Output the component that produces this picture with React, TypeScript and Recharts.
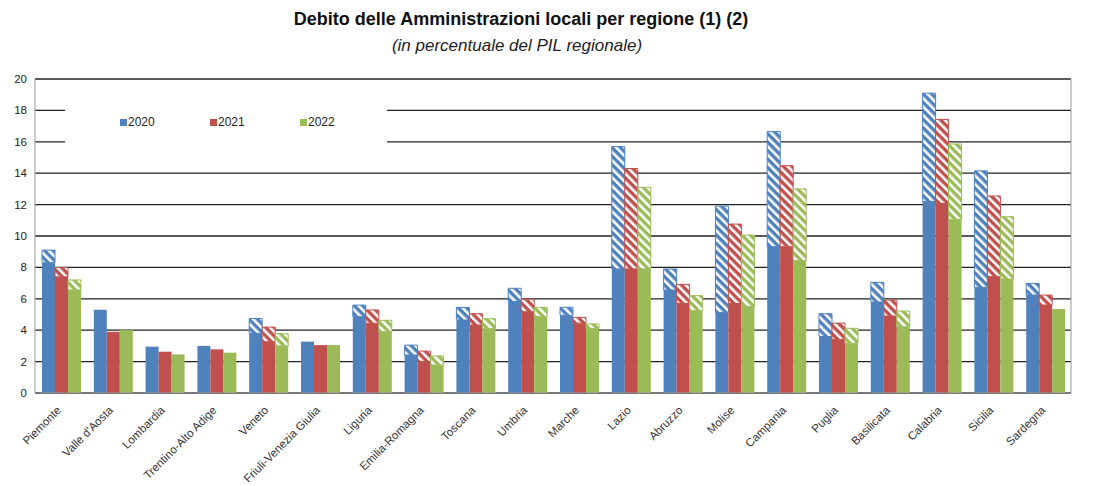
import React from "react";
import { BarChart, Bar, XAxis, YAxis, CartesianGrid } from "recharts";

const regions = [
  "Piemonte", "Valle d'Aosta", "Lombardia", "Trentino-Alto Adige", "Veneto",
  "Friuli-Venezia Giulia", "Liguria", "Emilia-Romagna", "Toscana", "Umbria",
  "Marche", "Lazio", "Abruzzo", "Molise", "Campania",
  "Puglia", "Basilicata", "Calabria", "Sicilia", "Sardegna",
];

// totale (altezza della barra) e parte piena; la differenza è la parte tratteggiata
const total2020 = [9.1, 5.3, 2.95, 3.0, 4.75, 3.27, 5.6, 3.05, 5.45, 6.67, 5.46, 15.7, 7.9, 11.9, 16.65, 5.05, 7.05, 19.1, 14.15, 6.98];
const solid2020 = [8.3, 5.3, 2.95, 3.0, 3.8, 3.27, 4.86, 2.42, 4.65, 5.83, 4.95, 7.9, 6.56, 5.12, 9.32, 3.6, 5.8, 12.2, 6.73, 6.24];
const total2021 = [8.0, 3.9, 2.63, 2.78, 4.2, 3.05, 5.29, 2.67, 5.05, 5.97, 4.82, 14.3, 6.92, 10.76, 14.48, 4.45, 5.92, 17.43, 12.55, 6.24];
const solid2021 = [7.4, 3.9, 2.63, 2.78, 3.27, 3.05, 4.44, 2.0, 4.33, 5.18, 4.45, 7.9, 5.7, 5.7, 9.32, 3.42, 4.9, 12.08, 7.41, 5.6];
const total2022 = [7.2, 4.0, 2.46, 2.57, 3.78, 3.05, 4.63, 2.36, 4.73, 5.46, 4.4, 13.1, 6.2, 10.06, 13.0, 4.12, 5.22, 15.86, 11.23, 5.35];
const solid2022 = [6.56, 4.0, 2.46, 2.57, 3.0, 3.05, 3.9, 1.78, 4.1, 4.86, 4.1, 7.9, 5.24, 5.5, 8.43, 3.17, 4.22, 11.06, 7.26, 5.35];

const yTicks = [0, 2, 4, 6, 8, 10, 12, 14, 16, 18, 20];
const years = ["2020", "2021", "2022"];
const colors = ["#4F81BD", "#C0504D", "#9BBB59"];

const data = regions.map((name, i) => ({
  name,
  s2020: solid2020[i],
  h2020: +(total2020[i] - solid2020[i]).toFixed(2),
  s2021: solid2021[i],
  h2021: +(total2021[i] - solid2021[i]).toFixed(2),
  s2022: solid2022[i],
  h2022: +(total2022[i] - solid2022[i]).toFixed(2),
}));

const FONT = "'Liberation Sans', Arial, sans-serif";

const RegionTick = ({ x, y, payload }: any) => (
  <text
    x={x + 1}
    y={y + 10}
    textAnchor="end"
    transform={`rotate(-45, ${x + 1}, ${y + 10})`}
    fontSize={11.5}
    fontFamily={FONT}
    fill="#333"
  >
    {payload.value}
  </text>
);

export default function App() {
  return (
    <div style={{ position: "absolute", left: 0, top: 0, width: 1093, height: 486, background: "#fff", fontFamily: FONT }}>
      <div style={{ position: "absolute", left: 0, width: 1042, top: 9, textAlign: "center", fontSize: 18, fontWeight: "bold", color: "#111" }}>
        Debito delle Amministrazioni locali per regione (1) (2)
      </div>
      <div style={{ position: "absolute", left: 0, width: 1034, top: 36, textAlign: "center", fontSize: 17, fontStyle: "italic", color: "#222" }}>
        (in percentuale del PIL regionale)
      </div>

      <BarChart
        width={1093}
        height={486}
        data={data}
        margin={{ top: 79, right: 0, bottom: 0, left: 0 }}
        barCategoryGap={7}
        barGap={0}
      >
        <defs>
          {years.map((yr, i) => (
            <pattern key={yr} id={`hatch${yr}`} width={6} height={6} patternUnits="userSpaceOnUse" patternTransform="rotate(-45)">
              <rect width={6} height={6} fill={colors[i]} />
              <rect width={2.6} height={6} fill="#fff" />
            </pattern>
          ))}
        </defs>
        <CartesianGrid vertical={false} stroke="#222" strokeWidth={1.3} yAxisId="left" />
        <XAxis
          dataKey="name"
          interval={0}
          height={93}
          tick={<RegionTick />}
          tickLine={false}
          axisLine={{ stroke: "#999" }}
        />
        <YAxis
          yAxisId="left"
          width={35}
          domain={[0, 20]}
          ticks={yTicks}
          tickLine={false}
          axisLine={{ stroke: "#999" }}
          tick={{ fontSize: 11.5, fill: "#222", fontFamily: FONT }}
        />
        <YAxis
          yAxisId="right"
          orientation="right"
          width={22}
          domain={[0, 20]}
          ticks={yTicks}
          tickLine={false}
          axisLine={{ stroke: "#999" }}
          tick={{ fontSize: 11.5, fill: "#222", fontFamily: FONT, textAnchor: "start" }}
        />
        {years.map((yr, i) => [
          <Bar key={`s${yr}`} yAxisId="left" dataKey={`s${yr}`} stackId={yr} fill={colors[i]} isAnimationActive={false} />,
          <Bar key={`h${yr}`} yAxisId="left" dataKey={`h${yr}`} stackId={yr} fill={`url(#hatch${yr})`} stroke={colors[i]} strokeWidth={1} isAnimationActive={false} />,
        ])}
      </BarChart>

      <div style={{ position: "absolute", left: 65, top: 92, width: 322, height: 62, background: "#fff" }}>
        {years.map((yr, i) => (
          <div key={yr} style={{ position: "absolute", left: 55 + i * 90, top: 23, display: "flex", alignItems: "center", fontSize: 12, color: "#222" }}>
            <span style={{ display: "inline-block", width: 7, height: 7, background: colors[i], marginRight: 1 }} />
            {yr}
          </div>
        ))}
      </div>
    </div>
  );
}
